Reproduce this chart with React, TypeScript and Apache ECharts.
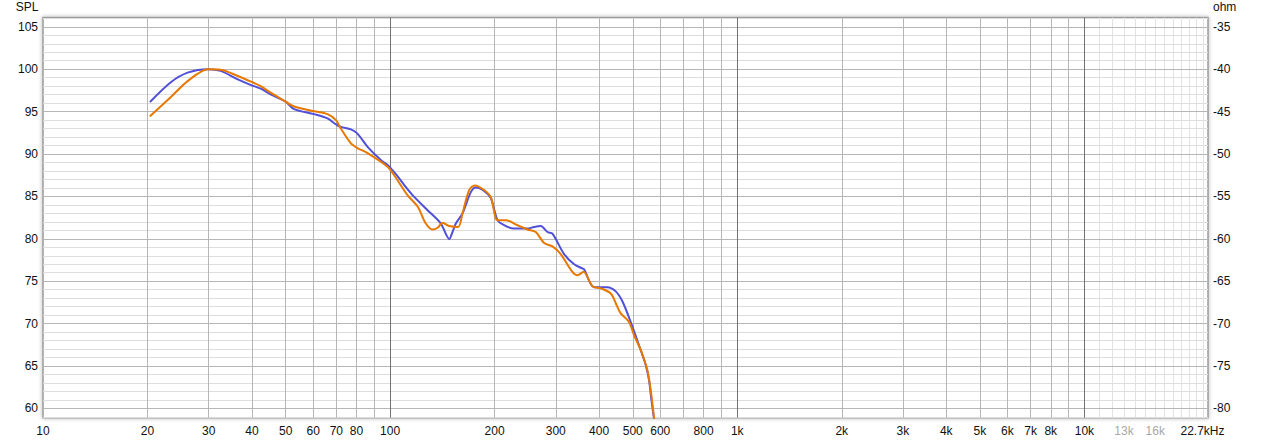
import React, { useEffect, useRef } from "react";
import * as echarts from "echarts";

// ---- data ----
const blueFreq = [20.4, 23.4, 26.1, 29.9, 32.5, 36.4, 39.9, 42.4, 45.4, 49.9, 52.9, 60.4, 66.0, 69.8, 72.1, 77.1, 80.5, 86.1, 94, 99, 104, 110, 116, 128, 140, 144.6, 148, 151.2, 154.6, 161.6, 170.8, 176.5, 186.5, 195, 203.9, 212.9, 227.5, 248.7, 260, 271.6, 284, 293.5, 317, 339, 358, 362, 386.8, 422.7, 446.7, 467, 493, 521, 545, 557, 565.8, 575.5, 582];
const blueSpl = [96.2, 98.5, 99.6, 100.0, 99.8, 98.8, 98.1, 97.7, 97.0, 96.2, 95.3, 94.7, 94.2, 93.5, 93.2, 92.9, 92.4, 90.85, 89.3, 88.6, 87.6, 86.3, 85.15, 83.4, 81.8, 80.6, 79.96, 80.8, 81.8, 83.0, 85.5, 86.05, 85.65, 84.8, 82.2, 81.6, 81.2, 81.2, 81.4, 81.5, 80.8, 80.6, 78.2, 77.0, 76.5, 76.4, 74.3, 74.3, 73.8, 72.6, 70.2, 67.45, 65.1, 63.3, 61.0, 58.8, 57.5];

const orangeFreq = [20.4, 23.4, 26.1, 29.9, 32.5, 36.4, 39.9, 42.4, 45.4, 49.9, 52.9, 60.4, 66.0, 69.8, 72.1, 77.1, 80.5, 86.1, 98.3, 102.7, 112.2, 120, 126.7, 132.4, 137, 141.6, 147.9, 157, 161.6, 168.9, 175.4, 186.5, 195, 203.9, 215.4, 232.8, 248.7, 262.8, 277.7, 293.5, 310, 335, 346.5, 360.5, 382.6, 404.4, 432, 446.7, 461.6, 487.6, 504, 527, 550.8, 563, 575.5, 582];
const orangeSpl = [94.5, 96.75, 98.6, 100.0, 99.95, 99.2, 98.5, 98.0, 97.2, 96.2, 95.6, 95.05, 94.7, 94.0, 93.0, 91.25, 90.7, 90.1, 88.5, 87.5, 85.15, 83.8, 81.8, 81.1, 81.3, 81.9, 81.5, 81.4, 83.0, 85.75, 86.3, 85.75, 84.9, 82.2, 82.2, 81.6, 81.1, 80.8, 79.5, 79.1, 78.2, 76.1, 75.7, 76.1, 74.4, 74.15, 73.55, 72.4, 71.2, 70.2, 68.65, 66.9, 64.5, 62.2, 59.0, 57.5];

const xLabelValues = [10, 20, 30, 40, 50, 60, 70, 80, 100, 200, 300, 400, 500, 600, 800, 1000, 2000, 3000, 4000, 5000, 6000, 7000, 8000, 10000, 13000, 16000, 22700];
const grayLabelValues = [13000, 16000];
const splTicks = [60, 65, 70, 75, 80, 85, 90, 95, 100, 105];
const ohmTicks = [-80, -75, -70, -65, -60, -55, -50, -45, -40, -35];

const minorFreqLines = [20, 30, 40, 50, 60, 70, 80, 90, 200, 300, 400, 500, 600, 700, 800, 900, 2000, 3000, 4000, 5000, 6000, 7000, 8000, 9000];
const majorFreqLines = [100, 1000, 10000];
const hfFreqLines = [11000, 12000, 13000, 14000, 15000, 16000, 17000, 18000, 19000, 20000, 21000, 22000];
const splMinorLines = [59, 61, 62, 63, 64, 66, 67, 68, 69, 71, 72, 73, 74, 76, 77, 78, 79, 81, 82, 83, 84, 86, 87, 88, 89, 91, 92, 93, 94, 96, 97, 98, 99, 101, 102, 103, 104, 106];
const splMajorLines = [60, 65, 70, 75, 80, 85, 90, 95, 100, 105];

const FONT = "'Liberation Sans', Arial, sans-serif";

function pairs(xs: number[], ys: number[]) {
  return xs.map((x, i) => [x, ys[i]]);
}

function fmtFreq(v: number) {
  const r = Math.round(v);
  if (r === 22700) return "{r|22.7kHz}";
  if (grayLabelValues.indexOf(r) >= 0) return "{g|" + r / 1000 + "k}";
  if (r >= 1000) return r / 1000 + "k";
  return String(r);
}

export default function App() {
  const ref = useRef<HTMLDivElement>(null);
  useEffect(() => {
    if (!ref.current) return;
    const chart = echarts.init(ref.current, undefined, { renderer: "svg" });
    const light = { color: "#dedede", width: 1, type: "solid" };
    const hf = { color: "#e2e2e2", width: 1, type: "solid" };
    const mid = { color: "#b6b6b6", width: 1, type: "solid" };
    const major = { color: "#727272", width: 1, type: "solid" };
    const gridLines: any[] = [];
    splMinorLines.forEach((v) => gridLines.push({ yAxis: v, lineStyle: light }));
    hfFreqLines.forEach((v) => gridLines.push({ xAxis: v, lineStyle: hf }));
    splMajorLines.forEach((v) => gridLines.push({ yAxis: v, lineStyle: mid }));
    minorFreqLines.forEach((v) => gridLines.push({ xAxis: v, lineStyle: mid }));
    majorFreqLines.forEach((v) => gridLines.push({ xAxis: v, lineStyle: major }));

    chart.setOption({
      animation: false,
      backgroundColor: "#ffffff",
      grid: {
        left: 43,
        right: 57,
        top: 17.5,
        bottom: 25.3,
        show: true,
        backgroundColor: "#ffffff",
        borderColor: "#9c9c9c",
        borderWidth: 1.5,
        shadowColor: "rgba(0,0,0,0.28)",
        shadowBlur: 4,
      },
      xAxis: {
        type: "log",
        logBase: 10,
        min: 10,
        max: 22700,
        axisLine: { show: false },
        axisTick: { show: false },
        splitLine: { show: false },
        minorSplitLine: { show: false },
        axisLabel: {
          customValues: xLabelValues,
          formatter: fmtFreq,
          margin: 7,
          color: "#111",
          fontSize: 12,
          fontFamily: FONT,
          rich: {
            g: { color: "#a8a8a8", fontSize: 12, fontFamily: FONT },
            r: { color: "#111", fontSize: 12, fontFamily: FONT, padding: [0, 11, 0, 0] },
          },
        },
      },
      yAxis: [
        {
          type: "value",
          min: 58.9,
          max: 106.1,
          position: "left",
          axisLine: { show: false },
          axisTick: { show: false },
          splitLine: { show: false },
          axisLabel: {
            customValues: splTicks,
            margin: 5,
            color: "#111",
            fontSize: 12,
            fontFamily: FONT,
          },
        },
        {
          type: "value",
          min: -81.1,
          max: -33.9,
          position: "right",
          axisLine: { show: false },
          axisTick: { show: false },
          splitLine: { show: false },
          axisLabel: {
            customValues: ohmTicks,
            margin: 5,
            color: "#111",
            fontSize: 12,
            fontFamily: FONT,
          },
        },
      ],
      graphic: [
        {
          type: "text",
          right: 1265 - 38.5,
          top: 1,
          style: { text: "SPL", fill: "#111", font: "12px " + FONT },
        },
        {
          type: "text",
          left: 1213,
          top: 1,
          style: { text: "ohm", fill: "#111", font: "12px " + FONT },
        },
      ],
      series: [
        {
          type: "line",
          data: [],
          z: 1,
          silent: true,
          markLine: {
            z: 1,
            silent: true,
            symbol: ["none", "none"],
            label: { show: false },
            emphasis: { disabled: true },
            animation: false,
            data: gridLines,
          },
        },
        {
          type: "line",
          name: "blue",
          data: pairs(blueFreq, blueSpl),
          showSymbol: false,
          smooth: 0.3,
          clip: true,
          z: 10,
          lineStyle: { color: "#5050d8", width: 2, type: "solid", cap: "round", join: "round" },
          itemStyle: { color: "#5050d8" },
        },
        {
          type: "line",
          name: "orange",
          data: pairs(orangeFreq, orangeSpl),
          showSymbol: false,
          smooth: 0.3,
          clip: true,
          z: 11,
          lineStyle: { color: "#e87800", width: 2, type: "solid", cap: "round", join: "round" },
          itemStyle: { color: "#e87800" },
        },
      ],
    });
    return () => chart.dispose();
  }, []);
  return (
    <div
      ref={ref}
      style={{ position: "absolute", left: 0, top: 0, width: 1265, height: 443 }}
    />
  );
}
